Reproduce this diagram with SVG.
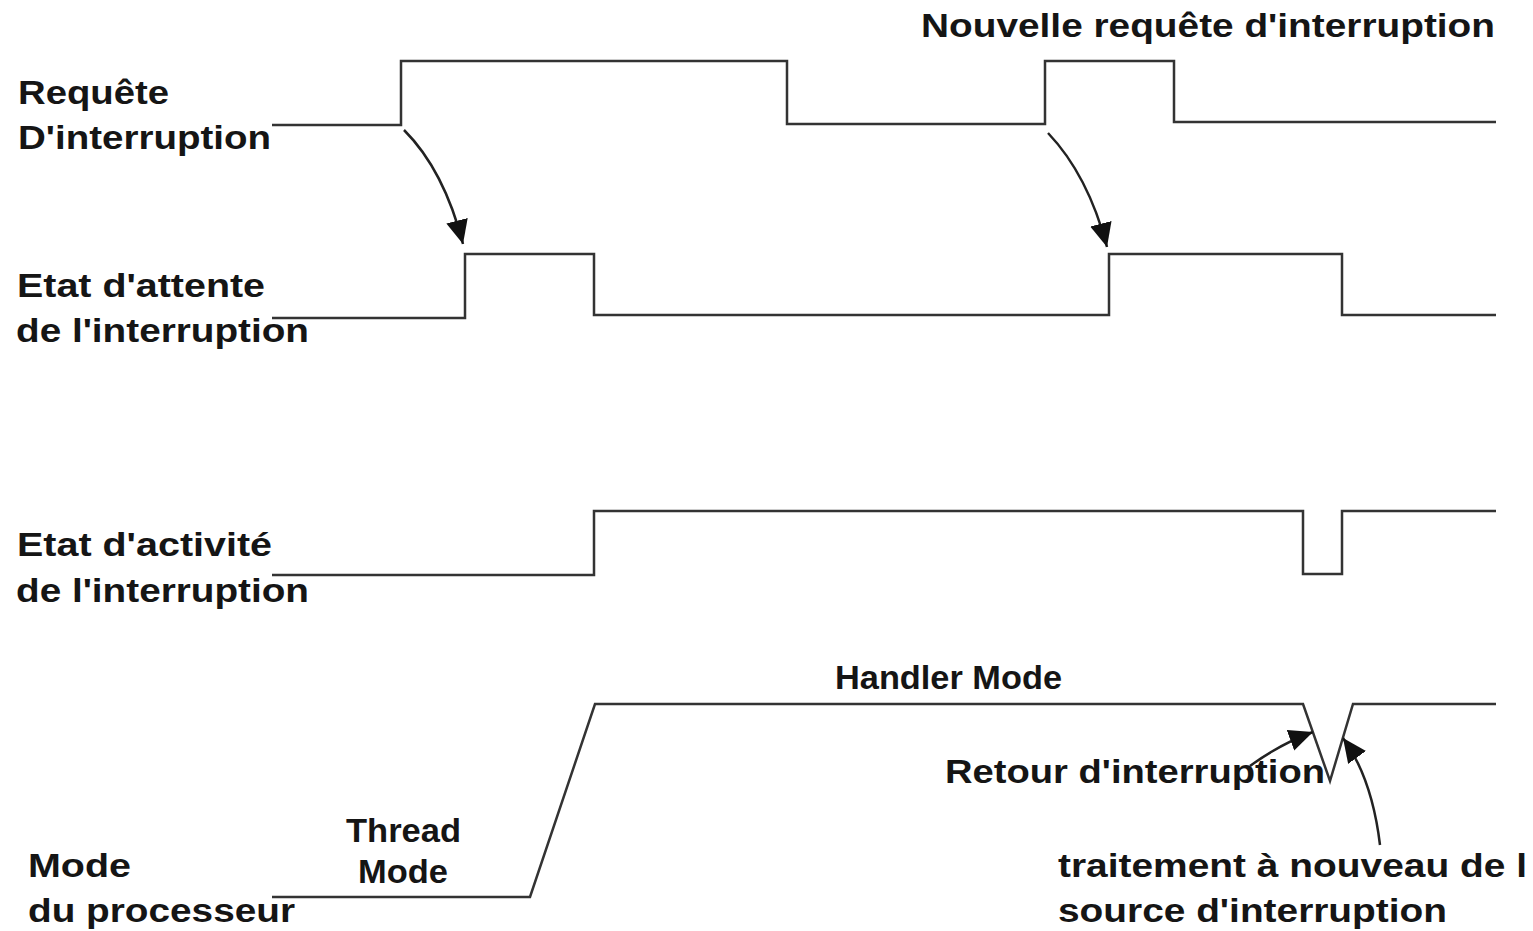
<svg xmlns="http://www.w3.org/2000/svg" width="1533" height="931" viewBox="0 0 1533 931">
<defs>
<style>
.sig{fill:none;stroke:#333;stroke-width:2.5;stroke-linejoin:miter}
.arr{fill:none;stroke:#222;stroke-width:2.5}
.lbl{font-family:"Liberation Sans",Arial,sans-serif;font-weight:bold;font-size:34px;fill:#151515}
</style>
<marker id="ah" markerUnits="userSpaceOnUse" markerWidth="26" markerHeight="24" viewBox="0 0 26 24" refX="24" refY="12" orient="auto">
<path d="M0,1 L24,12 L0,23 Z" fill="#111"/>
</marker>
</defs>
<rect width="1533" height="931" fill="#fff"/>
<g id="connectors">
<path id="sig-requete" class="sig" d="M272,125 H401 V61 H787 V124 H1045 V61 H1174 V122 H1496"/>
<path id="sig-attente" class="sig" d="M272,318 H465 V254 H594 V315 H1109 V254 H1342 V315 H1496"/>
<path id="sig-activite" class="sig" d="M272,575 H594 V511 H1303 V574 H1342 V511 H1496"/>
<path id="sig-mode" class="sig" d="M272,897 H530 L595,704 H1303 L1330,781 L1353,704 H1496"/>
<path class="arr" d="M404,130 Q444,170 463,244" marker-end="url(#ah)"/>
<path class="arr" d="M1048,133 Q1088,175 1107,247" marker-end="url(#ah)"/>
<path class="arr" d="M1250,766 Q1280,744 1313,732" marker-end="url(#ah)"/>
<path class="arr" d="M1380,845 Q1372,778 1343,738" marker-end="url(#ah)"/>
</g>
<g id="label-requete">
<text class="lbl" x="18" y="104" textLength="151" lengthAdjust="spacingAndGlyphs">Requête</text>
<text class="lbl" x="18" y="149" textLength="253" lengthAdjust="spacingAndGlyphs">D'interruption</text>
</g>
<g id="label-attente">
<text class="lbl" x="17" y="297" textLength="248" lengthAdjust="spacingAndGlyphs">Etat d'attente</text>
<text class="lbl" x="16" y="342" textLength="293" lengthAdjust="spacingAndGlyphs">de l'interruption</text>
</g>
<g id="label-activite">
<text class="lbl" x="17" y="556" textLength="255" lengthAdjust="spacingAndGlyphs">Etat d'activité</text>
<text class="lbl" x="16" y="602" textLength="293" lengthAdjust="spacingAndGlyphs">de l'interruption</text>
</g>
<g id="label-mode">
<text class="lbl" x="28" y="877" textLength="103" lengthAdjust="spacingAndGlyphs">Mode</text>
<text class="lbl" x="28" y="922" textLength="267" lengthAdjust="spacingAndGlyphs">du processeur</text>
</g>
<g id="label-thread">
<text class="lbl" x="346" y="842" textLength="115" lengthAdjust="spacingAndGlyphs">Thread</text>
<text class="lbl" x="358" y="883" textLength="90" lengthAdjust="spacingAndGlyphs">Mode</text>
</g>
<g id="label-handler">
<text class="lbl" x="835" y="689" textLength="227" lengthAdjust="spacingAndGlyphs">Handler Mode</text>
</g>
<g id="label-nouvelle">
<text class="lbl" x="921" y="37" textLength="574" lengthAdjust="spacingAndGlyphs">Nouvelle requête d'interruption</text>
</g>
<g id="label-retour">
<text class="lbl" x="945" y="783" textLength="380" lengthAdjust="spacingAndGlyphs">Retour d'interruption</text>
</g>
<g id="label-traitement">
<text class="lbl" x="1058" y="877" textLength="469" lengthAdjust="spacingAndGlyphs">traitement à nouveau de l</text>
<text class="lbl" x="1058" y="922" textLength="389" lengthAdjust="spacingAndGlyphs">source d'interruption</text>
</g>
</svg>
